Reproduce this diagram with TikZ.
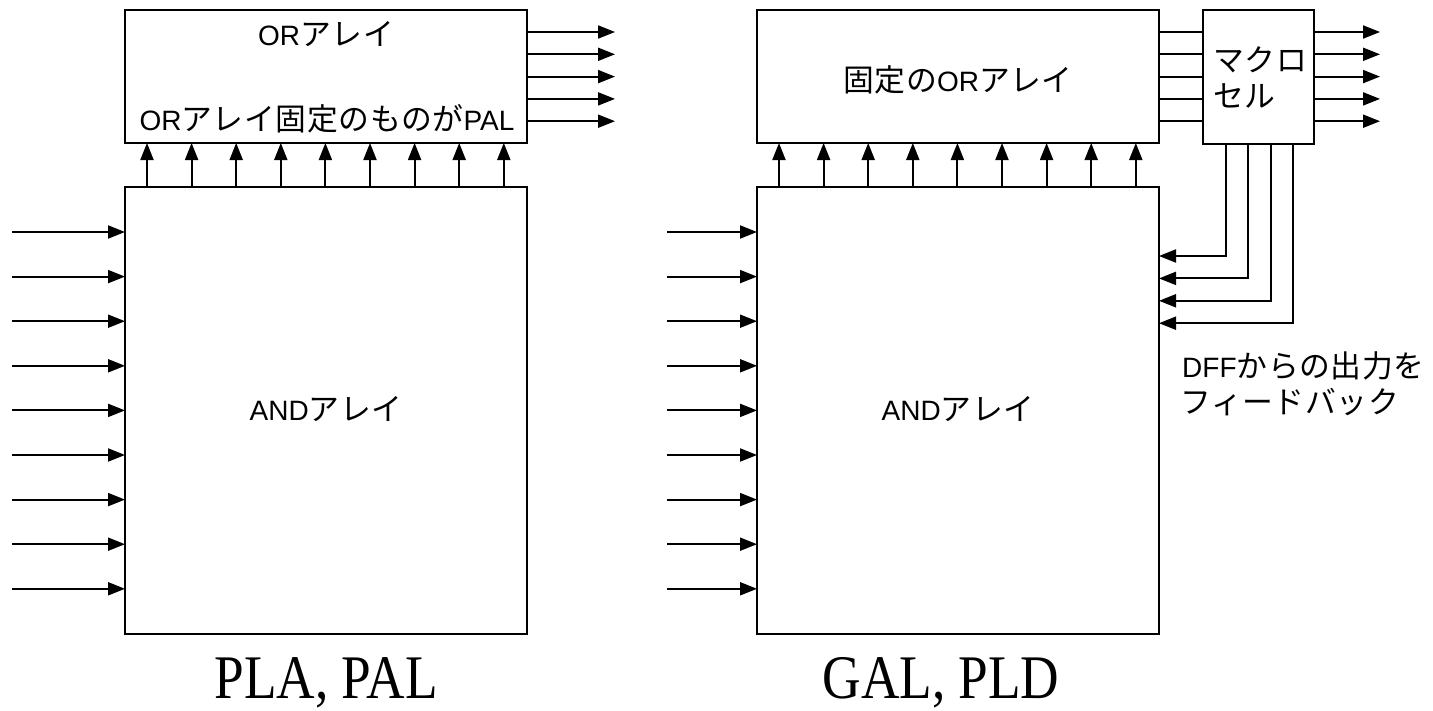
\documentclass[tikz,border=0pt]{standalone}
\usepackage{fontspec}
\setmainfont{Liberation Sans}
\newfontfamily\jpf{Noto Sans CJK JP}[Scale=1.1,LetterSpace=2]
\newfontfamily\tnr{Liberation Serif}
\usetikzlibrary{arrows.meta}
\newcommand\J[1]{{\jpf #1}}
\begin{document}
\begin{tikzpicture}[x=1pt,y=-1pt,
  box/.style={draw,line width=2.2pt,inner sep=0pt,outer sep=0pt,anchor=north west},
  wire/.style={line width=2pt},
  arr/.style={wire,-{Triangle[length=17pt,width=13pt]}},
  lbl/.style={font=\fontsize{28}{36}\selectfont,anchor=base,inner sep=0pt},
  title/.style={font=\tnr\fontsize{62}{62}\selectfont,anchor=base,inner sep=0pt,xscale=0.86}]
\useasboundingbox (0,0) rectangle (1433,710);
\fill[white] (0,0) rectangle (1433,710);
% ---------- left: PLA, PAL ----------
\node[box,minimum width=402pt,minimum height=133pt] (orL) at (125,10) {};
\node[box,minimum width=402pt,minimum height=447pt] (andL) at (125,187) {};
\node[lbl] (orLt) at (326,45) {OR\J{アレイ}};
\node[lbl] (orLt2) at (327,130) {OR\J{アレイ固定のものが}PAL};
\node[lbl] (andLt) at (326,420) {AND\J{アレイ}};
\node[title] (tL) at (326,698) {PLA, PAL};
\foreach \i in {0,...,8}{
  \draw[arr] ([xshift=22pt+\i*44.6pt]andL.north west) -- ([xshift=22pt+\i*44.6pt]orL.south west);
  \coordinate (inL\i) at (12,232+\i*44.6);
  \draw[arr] (inL\i) -- (inL\i -| andL.west);
}
\foreach \i in {0,...,4}{
  \coordinate (outL\i) at (615,32+\i*22.3);
  \draw[arr] (outL\i -| orL.east) -- (outL\i);
}
% ---------- right: GAL, PLD ----------
\node[box,minimum width=402pt,minimum height=133pt] (orR) at (757,10) {};
\node[box,minimum width=111pt,minimum height=134pt] (mcR) at (1203,10) {};
\node[box,minimum width=402pt,minimum height=447pt] (andR) at (757,187) {};
\node[lbl] (orRt) at (958,91) {\J{固定の}OR\J{アレイ}};
\node[lbl,anchor=base west] (mc1) at (1213,71) {\J{マクロ}};
\node[lbl,anchor=base west] (mc2) at (1213,107) {\J{セル}};
\node[lbl] (andRt) at (958,420) {AND\J{アレイ}};
\node[lbl,anchor=base west] (fb1) at (1182,377) {DFF\J{からの出力を}};
\node[lbl,anchor=base west] (fb2) at (1180,413) {\J{フィードバック}};
\node[title] (tR) at (941,698) {GAL, PLD};
\foreach \i in {0,...,8}{
  \draw[arr] ([xshift=22pt+\i*44.6pt]andR.north west) -- ([xshift=22pt+\i*44.6pt]orR.south west);
  \coordinate (inR\i) at (667,232+\i*44.6);
  \draw[arr] (inR\i) -- (inR\i -| andR.west);
}
\foreach \i in {0,...,4}{
  \coordinate (outR\i) at (1380,32+\i*22.3);
  \draw[wire] (outR\i -| orR.east) -- (outR\i -| mcR.west);
  \draw[arr] (outR\i -| mcR.east) -- (outR\i);
}
\foreach \i in {0,...,3}{
  \coordinate (fbx\i) at (1226+\i*22.4,256+\i*22.4);
  \draw[arr] (fbx\i |- mcR.south) |- (fbx\i -| andR.east);
}
\end{tikzpicture}
\end{document}
